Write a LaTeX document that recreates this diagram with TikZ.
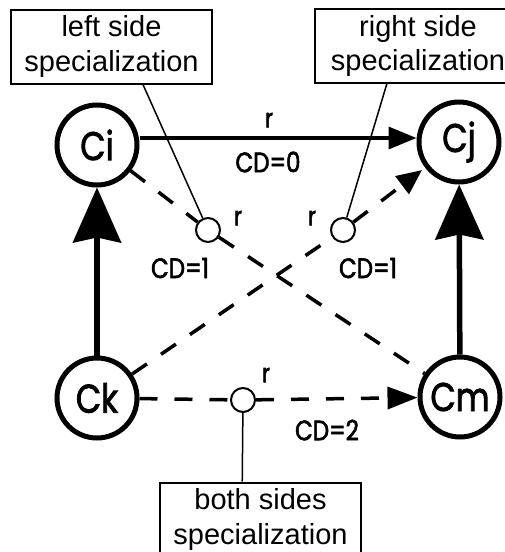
\documentclass[tikz,border=0pt]{standalone}
\usepackage{fontspec}
\setmainfont{Liberation Sans}
\newfontfamily\geofont[FakeStretch=0.82, FakeBold=2]{Poppins}
\usetikzlibrary{arrows.meta,calc}

\begin{document}
\begin{tikzpicture}[x=1pt,y=-1pt,
  concept/.style={circle, draw, line width=5pt, minimum size=80pt, inner sep=0pt,
    font=\geofont\fontsize{40}{40}\selectfont},
  joint/.style={circle, draw, line width=2pt, minimum size=24pt, inner sep=0pt, fill=white},
  labelbox/.style={draw, line width=2pt, minimum width=201pt, minimum height=74pt,
    align=center, inner sep=0pt, font=\fontsize{29}{35}\selectfont},
  tag/.style={inner sep=0pt, font=\geofont\fontsize{28}{28}\selectfont},
  rtag/.style={inner sep=0pt, font=\geofont\fontsize{26}{26}\selectfont},
  dashedlink/.style={line width=3.5pt, dash pattern=on 18pt off 17pt},
  isa/.style={line width=5.5pt, -{Stealth[length=55pt, width=48pt, inset=5pt]}},
  relation/.style={line width=3.5pt, -{Triangle[length=28pt, width=22pt]}},
  pointer/.style={line width=1.5pt},
]
\useasboundingbox (0,0) rectangle (505,552);
\clip (0,0) rectangle (505,552);

% concepts
\node[concept] (Ci) at (97,145) {Ci};
\node[concept] (Cj) at (459,142) {Cj};
\node[concept] (Ck) at (97,398) {Ck};
\node[concept] (Cm) at (460,397) {Cm};

% specialization points
\node[joint] (ls) at (208,230) {};
\node[joint] (rs) at (343,230) {};
\node[joint] (bs) at (243,400) {};

% explanation boxes
\node[labelbox] (lbox) at (111.5,46.5) {left side\\specialization};
\node[labelbox, minimum width=206pt] (rbox) at (418,46) {right side\\specialization};
\node[labelbox] (bbox) at (260.5,519.5) {both sides\\specialization};

% relation labels
\node[rtag] (r0) at (269,120) {r};
\node[tag] (cd0) at (268,162) {CD=0};
\node[rtag] (r1) at (238,218) {r};
\node[tag] (cd1) at (180,268) {CD=1};
\node[rtag] (r2) at (312,218) {r};
\node[tag] (cd2) at (368,268) {CD=1};
\node[rtag] (r3) at (266,375) {r};
\node[tag] (cd3) at (327,430) {CD=2};

% is-a links
\draw[isa] (Ck) -- (Ci);
\draw[isa] (Cm) -- (Cj);

% direct relation
\draw[relation] ([yshift=7pt]Ci.east) -- ([yshift=4pt]Cj.west);

% specialized relations
\draw[dashedlink] (Ci) -- (ls) -- (Cm);
\draw[dashedlink, -{Triangle[length=25pt, width=22pt]}, shorten >=4pt] (Ck) -- (rs) -- (Cj);
\draw[dashedlink, -{Triangle[length=30pt, width=22pt]}] (Ck) -- (bs) -- (Cm);

% box pointers
\coordinate (lfoot) at ($(lbox.south west)!0.655!(lbox.south east)$);
\coordinate (rfoot) at ($(rbox.south west)!0.35!(rbox.south east)$);
\coordinate (bfoot) at ($(bbox.north west)!0.41!(bbox.north east)$);
\draw[pointer] (lfoot) -- (ls);
\draw[pointer] (rfoot) -- (rs);
\draw[pointer] (bfoot) -- (bs);
\end{tikzpicture}
\end{document}
